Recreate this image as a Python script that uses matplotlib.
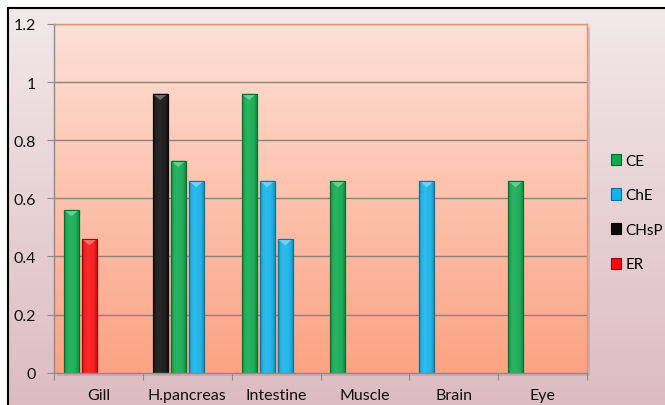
import numpy as np
import matplotlib
matplotlib.use("Agg")
import matplotlib.pyplot as plt
import matplotlib.colors as mcolors
from matplotlib.patches import Patch, Polygon, Rectangle

plt.rcParams['font.family'] = ['Lato', 'DejaVu Sans']

# tissues on the x axis
tissues = ['Gill', 'H.pancreas', 'Intestine', 'Muscle', 'Brain', 'Eye']

# one entry per bar: tissue index, slot inside the tissue group, series, value
bar_tissue = [0, 0, 1, 1, 1, 2, 2, 2, 3, 4, 5]
bar_slot = [0, 1, 0, 1, 2, 0, 1, 2, 0, 0, 0]
bar_series = ['CE', 'ER', 'CHsP', 'CE', 'ChE', 'CE', 'ChE', 'ChE', 'CE', 'ChE', 'CE']
bar_value = [0.56, 0.46, 0.96, 0.73, 0.66, 0.96, 0.66, 0.46, 0.66, 0.66, 0.66]

series_names = ['CE', 'ChE', 'CHsP', 'ER']
series_colors = {'CE': '#0aac4c', 'ChE': '#10b4ee', 'CHsP': '#0a0a0a', 'ER': '#ff0a0a'}
yticks = [0, 0.2, 0.4, 0.6, 0.8, 1.0, 1.2]
ytick_labels = ['0', '0.2', '0.4', '0.6', '0.8', '1', '1.2']

W, H = 665, 406
fig = plt.figure(figsize=(W / 100, H / 100), dpi=100)
fig.patch.set_facecolor('white')

# chart-area background with black frame on top/left
bg = fig.add_axes([8 / W, 0, 1 - 8 / W, 1 - 9 / H])
bg_grad = mcolors.LinearSegmentedColormap.from_list('bg', ['#dcbcc2', '#f2e8ea'])
bg.imshow(np.linspace(0, 1, 256).reshape(-1, 1), aspect='auto', cmap=bg_grad,
          origin='lower', extent=[0, 1, 0, 1])
bg.set_xlim(0, 1)
bg.set_ylim(0, 1)
bg.set_xticks([])
bg.set_yticks([])
for s in ['right', 'bottom']:
    bg.spines[s].set_visible(False)
for s in ['top', 'left']:
    bg.spines[s].set_color('black')
    bg.spines[s].set_linewidth(1.5)

# soft shadow behind the plot area
left, right, top, bottom = 54, 587, 25, 373.6
bg.add_patch(Rectangle(((left + 3 - 8) / (W - 8), (H - bottom - 3) / (H - 9)),
                       (right - left) / (W - 8), (bottom - top) / (H - 9),
                       facecolor='#b49a9c', edgecolor='none', alpha=0.5))

ax = fig.add_axes([left / W, (H - bottom) / H, (right - left) / W, (bottom - top) / H])
ax.set_xlim(0, len(tissues))
ax.set_ylim(0, 1.2)

plot_grad = mcolors.LinearSegmentedColormap.from_list('plot', ['#fba383', '#fde0d6'])
ax.imshow(np.linspace(0, 1, 256).reshape(-1, 1), aspect='auto', cmap=plot_grad,
          origin='lower', extent=[0, 1, 0, 1], transform=ax.transAxes, zorder=0)

for y in yticks[1:]:
    ax.axhline(y, color='#8f8079', lw=1, zorder=1)

# bar geometry inside one tissue group
first_off = 0.196
step = 0.203
bar_w = 0.17

xs = [t + first_off + step * s for t, s in zip(bar_tissue, bar_slot)]
cols = [series_colors[s] for s in bar_series]
bars = ax.bar(xs, bar_value, width=bar_w, color=cols, zorder=2, linewidth=0.8)

tri_h = 0.022
for rect, c in zip(bars, cols):
    base = np.array(mcolors.to_rgb(c))
    dark = base * 0.65
    light = np.clip(base + (1 - base) * 0.12, 0, 1)
    rect.set_edgecolor(dark)
    x0, w, h = rect.get_x(), rect.get_width(), rect.get_height()
    # horizontal shading across each bar
    u = np.linspace(0, 1, 64)
    prof = np.interp(u, [0, 0.12, 0.35, 0.75, 1], [0.0, 0.8, 1.0, 0.85, 0.25])
    img = np.array([dark + (light - dark) * p for p in prof]).reshape(1, -1, 3)
    im = ax.imshow(img, aspect='auto', extent=[x0, x0 + w, 0, h], zorder=2.1)
    im.set_clip_path(rect)
    ax.add_patch(Polygon([[x0, h], [x0 + w, h], [x0 + w / 2, h - tri_h]], closed=True,
                         facecolor=np.clip(base + (1 - base) * 0.4, 0, 1),
                         edgecolor='none', zorder=2.2))
    ax.add_patch(Rectangle((x0, 0), w, h, fill=False, edgecolor=dark, lw=0.8, zorder=2.3))

ax.set_yticks(yticks)
ax.set_yticklabels(ytick_labels, fontsize=11.5, color='#111111')
ax.set_xticks(np.arange(len(tissues) + 1))
ax.set_xticklabels([])
ax.set_xticks(np.arange(len(tissues)) + 0.5, minor=True)
ax.set_xticklabels(tissues, minor=True, fontsize=11.5, color='#111111')
ax.tick_params(axis='y', length=5, color='#8c8c8c', pad=8)
ax.tick_params(axis='x', which='major', length=5, color='#8c8c8c')
ax.tick_params(axis='x', which='minor', length=0, pad=11)

ax.spines['left'].set_color('#8c8c8c')
ax.spines['bottom'].set_color('#8c8c8c')
ax.spines['top'].set_color('#e0946e')
ax.spines['right'].set_color('#e0946e')
for s in ax.spines.values():
    s.set_linewidth(1.0)

handles = [Patch(facecolor=series_colors[n],
                 edgecolor=np.array(mcolors.to_rgb(series_colors[n])) * 0.6, lw=0.8)
           for n in series_names]
fig.legend(handles, series_names, loc='center left', bbox_to_anchor=(611 / W, 0.474),
           frameon=False, fontsize=11, handlelength=0.65, handleheight=0.75,
           handletextpad=0.3, labelspacing=1.35, borderpad=0, borderaxespad=0)

fig.savefig('out.png', dpi=100, facecolor=fig.get_facecolor())
